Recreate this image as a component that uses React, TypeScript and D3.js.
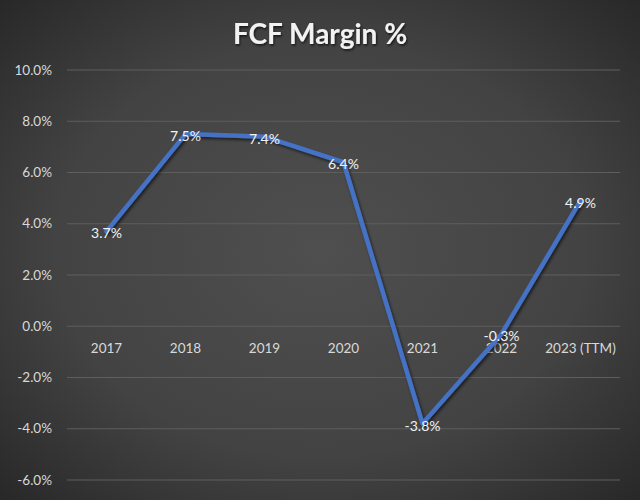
import React from "react";
import * as d3 from "d3";

const categories = ["2017", "2018", "2019", "2020", "2021", "2022", "2023 (TTM)"];
const fcfMargin = [3.7, 7.5, 7.4, 6.4, -3.8, -0.3, 4.9];
const yTicks = [-6, -4, -2, 0, 2, 4, 6, 8, 10];
const title = "FCF Margin %";

const W = 640;
const H = 500;
const margin = { left: 67, right: 20, top: 70, bottom: 20 };
const FONT = "Lato, 'Open Sans', sans-serif";

export default function App() {
  const x = d3
    .scaleBand<string>()
    .domain(categories)
    .range([margin.left, W - margin.right])
    .paddingInner(0)
    .paddingOuter(0);
  const y = d3.scaleLinear().domain([-6, 10]).range([H - margin.bottom, margin.top]);
  const cx = (c: string) => (x(c) as number) + x.bandwidth() / 2;

  const line = d3
    .line<number>()
    .x((_, i) => cx(categories[i]))
    .y((d) => y(d));

  return (
    <svg
      width={W}
      height={H}
      style={{ position: "absolute", left: 0, top: 0, display: "block" }}
    >
      <defs>
        <radialGradient id="bg" cx="50%" cy="50%" r="75%">
          <stop offset="0%" stopColor="#4f4f4f" />
          <stop offset="55%" stopColor="#434343" />
          <stop offset="100%" stopColor="#242424" />
        </radialGradient>
        <filter id="shadow" x="-20%" y="-20%" width="140%" height="140%">
          <feDropShadow dx="1.5" dy="2" stdDeviation="1.5" floodColor="#000" floodOpacity="0.6" />
        </filter>
        <filter id="tshadow" x="-20%" y="-30%" width="140%" height="160%">
          <feDropShadow dx="1" dy="1.5" stdDeviation="1.2" floodColor="#000" floodOpacity="0.7" />
        </filter>
      </defs>
      <rect x={0} y={0} width={W} height={H} fill="url(#bg)" />
      <text
        x={W / 2}
        y={44}
        textAnchor="middle"
        fontFamily={FONT}
        fontWeight={700}
        fontSize={28}
        fill="#f2f2f2"
        filter="url(#tshadow)"
      >
        {title}
      </text>
      {yTicks.map((t) => (
        <g key={t}>
          <line
            x1={margin.left}
            x2={W - margin.right}
            y1={y(t)}
            y2={y(t)}
            stroke="#5e5e5e"
            strokeWidth={1}
          />
          <text
            x={52}
            y={y(t)}
            dy="0.35em"
            textAnchor="end"
            fontFamily={FONT}
            fontSize={13.5}
            fill="#d9d9d9"
          >
            {t.toFixed(1) + "%"}
          </text>
        </g>
      ))}
      {categories.map((c) => (
        <text
          key={c}
          x={cx(c)}
          y={y(0) + 22}
          dy="0.35em"
          textAnchor="middle"
          fontFamily={FONT}
          fontSize={13.5}
          fill="#d9d9d9"
        >
          {c}
        </text>
      ))}
      <path
        d={line(fcfMargin) || ""}
        fill="none"
        stroke="#4472c4"
        strokeWidth={4.5}
        strokeLinejoin="round"
        strokeLinecap="round"
        filter="url(#shadow)"
      />
      {fcfMargin.map((v, i) => (
        <text
          key={i}
          x={cx(categories[i])}
          y={y(v) + 2}
          dy="0.35em"
          textAnchor="middle"
          fontFamily={FONT}
          fontSize={14}
          fill="#f2f2f2"
        >
          {v.toFixed(1) + "%"}
        </text>
      ))}
    </svg>
  );
}
